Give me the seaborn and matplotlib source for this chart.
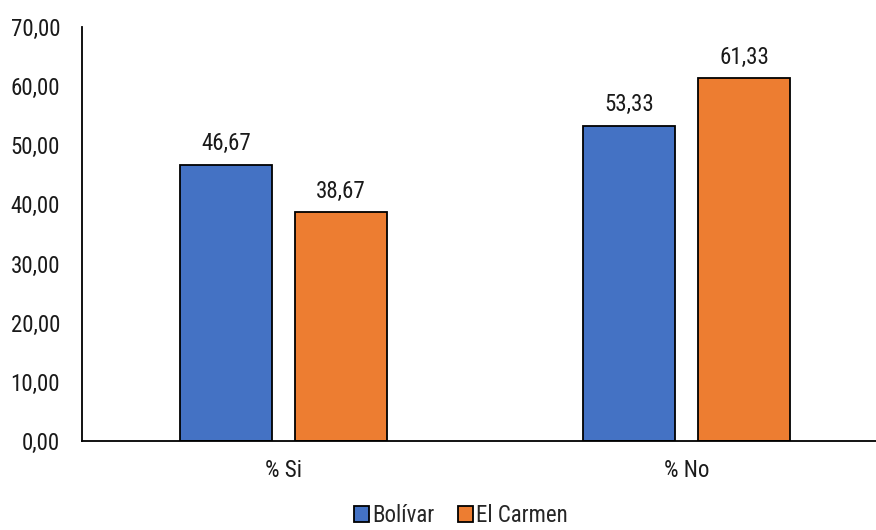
import matplotlib
matplotlib.use("Agg")
import matplotlib.pyplot as plt
import seaborn as sns
import pandas as pd
from matplotlib import font_manager

categories = ["% Si", "% No"]
series_names = ["Bolívar", "El Carmen"]
bolivar = [46.67, 53.33]
el_carmen = [38.67, 61.33]
colors = ["#4472C4", "#ED7D31"]

rows = []
for s, vals in zip(series_names, [bolivar, el_carmen]):
    for c, v in zip(categories, vals):
        rows.append({"cat": c, "serie": s, "val": v})
df = pd.DataFrame(rows)

sns.set_theme(style="white")
names = {f.name for f in font_manager.fontManager.ttflist}
fam = "Roboto"
for cand in ["Liberation Sans Narrow", "Roboto Condensed", "Open Sans Condensed", "Roboto"]:
    if cand in names:
        fam = cand
        break
plt.rcParams["font.family"] = [fam, "DejaVu Sans"]
FS = 16.5

fig = plt.figure(figsize=(8.76, 5.30), dpi=100)
ax = fig.add_axes([82.3 / 876, 1 - 441 / 530, (888 - 82.3) / 876, (441 - 27) / 530])

sns.barplot(data=df, x="cat", y="val", hue="serie", order=categories,
            hue_order=series_names, palette=colors, width=0.571, gap=0.2,
            edgecolor="black", linewidth=1.3, ax=ax, saturation=1)

for cont in ax.containers:
    labels = [f"{v:.2f}".replace(".", ",") for v in cont.datavalues]
    ax.bar_label(cont, labels=labels, padding=7, fontsize=FS, color="#1a1a1a")

ax.set_ylim(0, 70)
ax.set_xlim(-0.5, 1.5)
ax.set_yticks(range(0, 71, 10))
ax.set_yticklabels([f"{t:.2f}".replace(".", ",") for t in range(0, 71, 10)], fontsize=FS, color="#1a1a1a")
ax.tick_params(axis="x", labelsize=FS, colors="#1a1a1a", length=0, pad=13)
ax.tick_params(axis="y", length=0, pad=16)
ax.set_xlabel("")
ax.set_ylabel("")
for s in ["top", "right"]:
    ax.spines[s].set_visible(False)
for s in ["left", "bottom"]:
    ax.spines[s].set_color("black")
    ax.spines[s].set_linewidth(1.3)

ax.legend(loc="lower center", bbox_to_anchor=(461 / 876, -0.012), bbox_transform=fig.transFigure,
          ncol=2, frameon=False, fontsize=FS, handlelength=0.65, handleheight=0.65,
          handletextpad=0.15, columnspacing=1.0, borderaxespad=0)

fig.savefig("out.png", dpi=100)
